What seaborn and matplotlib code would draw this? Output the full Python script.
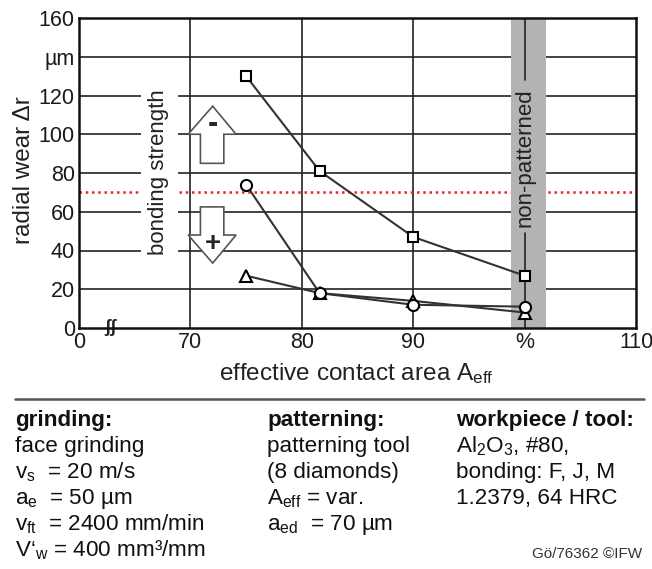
import matplotlib
matplotlib.use("Agg")
import matplotlib.pyplot as plt
import matplotlib.patches as mpatches
import seaborn as sns
import pandas as pd

# ---------------- data ----------------
area_pos = [75, 81.6, 90, 100]          # effective contact area (100 = non-patterned, shown as "%")
wear_square = [130, 81, 47, 27]
wear_circle = [74, 18, 12, 11]
wear_triangle = [27, 18, 14, 8]

x_ticks = [60, 70, 80, 90, 100, 110]
x_ticklabels = ["0", "70", "80", "90", "%", "110"]
y_ticks = [0, 20, 40, 60, 80, 100, 120, 140, 160]
y_ticklabels = ["0", "20", "40", "60", "80", "100", "120", "µm", "160"]
threshold = 70

sns.set_style("white")
plt.rcParams["font.family"] = ["Liberation Sans", "DejaVu Sans"]
plt.rcParams["mathtext.fontset"] = "custom"
plt.rcParams["mathtext.rm"] = "Liberation Sans"
plt.rcParams["mathtext.it"] = "Liberation Sans"
plt.rcParams["mathtext.default"] = "regular"

W, H = 652, 569
fig = plt.figure(figsize=(W / 100, H / 100), dpi=100)
ax = fig.add_axes([79 / W, 1 - 328 / H, (636 - 79) / W, (328 - 18) / H])
ax.set_xlim(60, 110)
ax.set_ylim(0, 160)

# grid
for y in y_ticks[1:-1]:
    ax.axhline(y, color="#222222", lw=1.2, zorder=0.5)
for x in [70, 80, 90]:
    ax.axvline(x, color="#222222", lw=1.2, zorder=0.5)

# red dotted threshold
ax.axhline(threshold, color="#e8262a", lw=1.8, ls=(0, (1, 1.5)), zorder=1)

# white box behind "bonding strength"
ax.add_patch(mpatches.Rectangle((65.6, 35.5), 3.3, 89.5, facecolor="white",
                                edgecolor="none", zorder=2))
ax.text(67.1, 80.5, "bonding strength", rotation=90, ha="center", va="center",
        fontsize=16, color="#222222", zorder=4)

# grey band non-patterned
ax.axvspan(98.8, 101.9, color="#b3b3b3", lw=0, zorder=2)
ax.plot([100, 100], [0, 49], color="#222222", lw=1.2, zorder=3)
ax.plot([100, 100], [128, 160], color="#222222", lw=1.2, zorder=3)
ax.text(100, 88, "non-patterned", rotation=90, ha="center", va="center",
        fontsize=16, color="#222222", zorder=4)

# arrows
up = mpatches.Polygon([(70.9, 85), (70.9, 100), (69.8, 100), (72.0, 114.5),
                       (74.1, 100), (73.0, 100), (73.0, 85)], closed=True,
                      facecolor="white", edgecolor="#555555", lw=1.2, zorder=3)
down = mpatches.Polygon([(70.9, 62.5), (70.9, 48), (69.8, 48), (72.0, 33.5),
                         (74.1, 48), (73.0, 48), (73.0, 62.5)], closed=True,
                        facecolor="white", edgecolor="#555555", lw=1.2, zorder=3)
ax.add_patch(up)
ax.add_patch(down)
ax.text(72.0, 105.5, "-", ha="center", va="center", fontsize=22, fontweight="bold", zorder=4)
ax.text(72.0, 43.5, "+", ha="center", va="center", fontsize=20, fontweight="bold", zorder=4)

# data
df = pd.DataFrame({
    "area": area_pos * 3,
    "wear": wear_square + wear_circle + wear_triangle,
    "series": ["square"] * 4 + ["circle"] * 4 + ["triangle"] * 4,
})
for name, mk, ms in [("triangle", "^", 9), ("circle", "o", 8), ("square", "s", 7)]:
    sns.lineplot(data=df[df.series == name], x="area", y="wear", ax=ax,
                 color="#333333", lw=1.5, marker=mk, markersize=ms,
                 markerfacecolor="white", markeredgecolor="black",
                 markeredgewidth=1.5, legend=False, zorder=5, sort=False)

# axis break mark
ax.text(62.8, 0, "ʃʃ", ha="center", va="center", fontsize=13, fontweight="bold",
        color="#222222", zorder=6)

ax.set_xticks(x_ticks)
ax.set_xticklabels(x_ticklabels)
ax.set_yticks(y_ticks)
ax.set_yticklabels(y_ticklabels)
ax.tick_params(length=0, labelsize=15.5, colors="#1a1a1a", pad=3)
ax.set_xlabel("")
ax.set_ylabel("")
for s in ax.spines.values():
    s.set_color("#111111")
    s.set_linewidth(1.8)
    s.set_zorder(6)

fig.text(24 / W, 1 - 170 / H, "radial wear Δr", rotation=90, ha="center", va="center",
         fontsize=17.5, color="#222222")
fig.text(356 / W, 1 - 380 / H, "effective contact area A$_{eff}$", ha="center",
         va="baseline", fontsize=17.5, color="#222222")

# separator line
fig.add_artist(plt.Line2D([15 / W, 644 / W], [1 - 399 / H, 1 - 399 / H],
                          color="#555555", lw=1.8))

cols = [
    (15, ["grinding:", "face grinding", "v$_{s}$  = 20 m/s", "a$_{e}$  = 50 µm",
          "v$_{ft}$  = 2400 mm/min", "V‘$_{w}$ = 400 mm³/mm"]),
    (267, ["patterning:", "patterning tool", "(8 diamonds)", "A$_{eff}$ = var.",
           "a$_{ed}$  = 70 µm"]),
    (456, ["workpiece / tool:", "Al$_{2}$O$_{3}$, #80,", "bonding: F, J, M",
           "1.2379, 64 HRC"]),
]
line_y = [426, 452, 478, 504, 530, 556]
for x0, lines in cols:
    for i, t in enumerate(lines):
        fig.text(x0 / W, 1 - line_y[i] / H, t, ha="left", va="baseline",
                 fontsize=16.2, color="#111111",
                 fontweight="bold" if i == 0 else "normal")

fig.text(642 / W, 1 - 558 / H, "Gö/76362 ©IFW", ha="right", va="baseline",
         fontsize=11, color="#333333")

fig.savefig("out.png", dpi=100)
